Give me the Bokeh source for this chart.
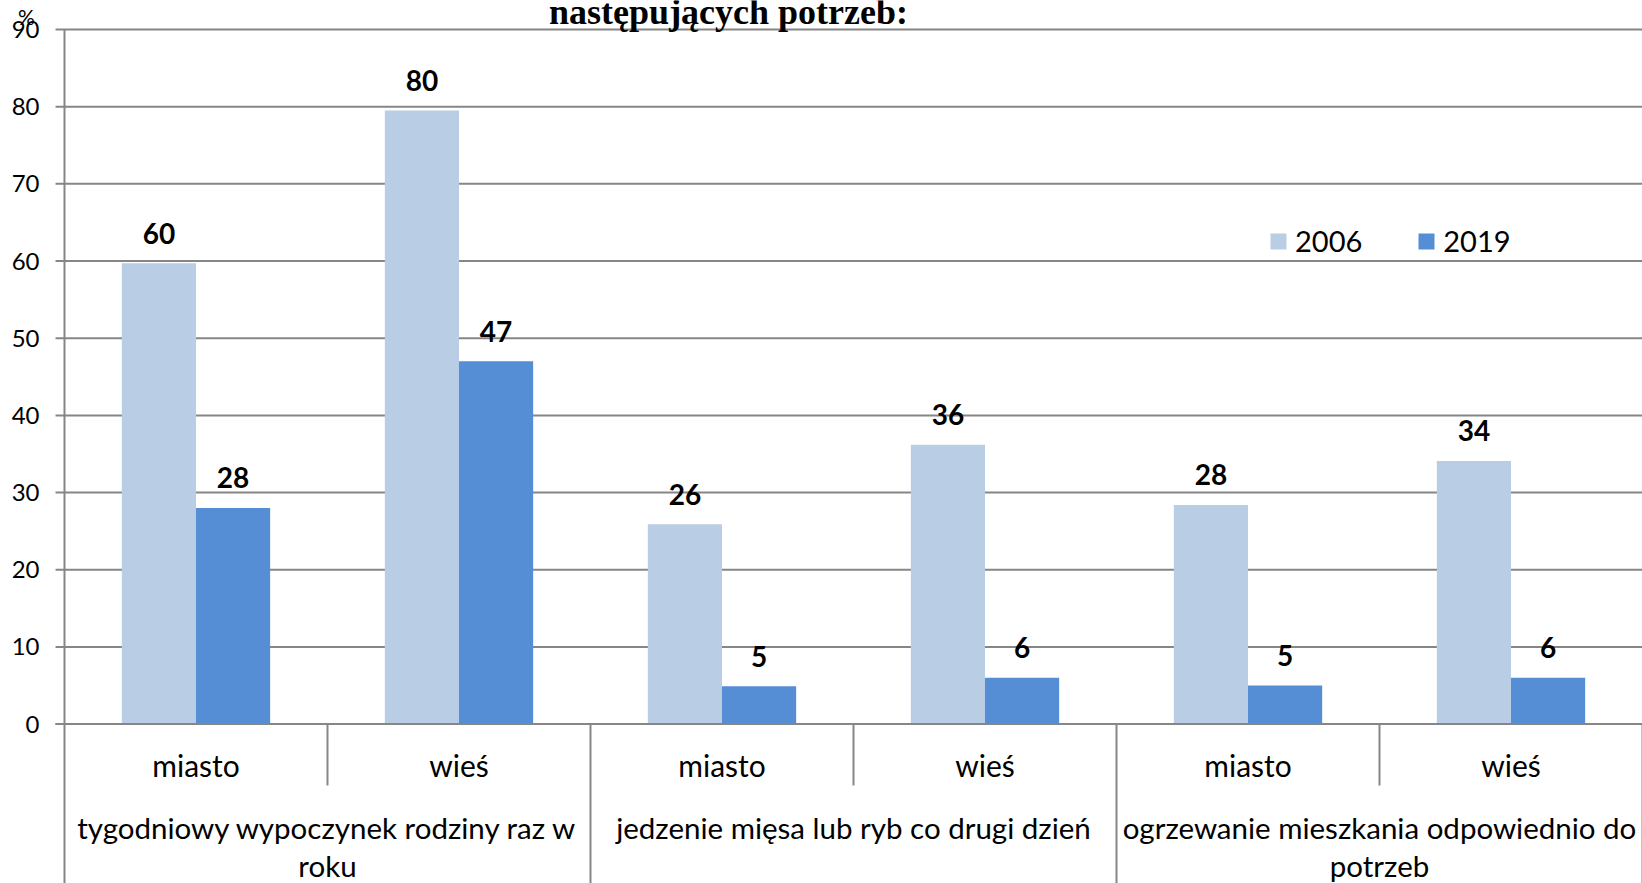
from bokeh.plotting import figure
from bokeh.models import Range1d, Legend, LegendItem, ColumnDataSource
from bokeh.core.properties import value
from bokeh.embed import file_html
from bokeh.resources import INLINE

# ---- data ----
sub_labels = ["miasto", "wieś", "miasto", "wieś", "miasto", "wieś"]
group_labels = ["tygodniowy wypoczynek rodziny raz w\nroku",
                "jedzenie mięsa lub ryb co drugi dzień",
                "ogrzewanie mieszkania odpowiednio do\npotrzeb"]
series_names = ["2006", "2019"]
values_2006 = [59.7, 79.5, 25.9, 36.2, 28.4, 34.1]
values_2019 = [28.0, 47.0, 4.9, 6.0, 5.0, 6.0]
labels_2006 = ["60", "80", "26", "36", "28", "34"]
labels_2019 = ["28", "47", "5", "6", "5", "6"]
y_ticks = [0, 10, 20, 30, 40, 50, 60, 70, 80, 90]
title_text = "następujących potrzeb:"
y_unit = "%"

# ---- style / layout ----
C2006 = "#B9CDE5"
C2019 = "#558ED5"
GRID = "#868686"
FONT = "Lato"
BAR_W = 0.282
X_MIN = -0.2433          # room on the left for the value axis
Y_MIN, Y_MAX = -20.66, 93.76
TICK_X0 = -0.034         # outside tick mark start
TICK_LABEL_X = -0.095
SHORT_Y = -7.96

n = len(sub_labels)
centers = [i + 0.5 for i in range(n)]
top_tick = max(y_ticks)

p = figure(width=1642, height=883, output_backend="svg", toolbar_location=None,
           x_range=Range1d(X_MIN, n), y_range=Range1d(Y_MIN, Y_MAX),
           min_border=0)
p.outline_line_color = None
p.xaxis.visible = False
p.yaxis.visible = False
p.grid.visible = False

# gridlines with outside tick marks
p.segment(x0=[TICK_X0] * len(y_ticks), y0=y_ticks, x1=[n] * len(y_ticks), y1=y_ticks,
          line_color=GRID, line_width=2)

src = ColumnDataSource(dict(
    x1=[c - BAR_W / 2 for c in centers], x2=[c + BAR_W / 2 for c in centers],
    v1=values_2006, v2=values_2019, l1=labels_2006, l2=labels_2019))

r1 = p.vbar(x="x1", top="v1", bottom=0, width=BAR_W, source=src, fill_color=C2006, line_color=None)
r2 = p.vbar(x="x2", top="v2", bottom=0, width=BAR_W, source=src, fill_color=C2019, line_color=None)

for xc, vc, lc in (("x1", "v1", "l1"), ("x2", "v2", "l2")):
    p.text(x=xc, y=vc, text=lc, source=src, text_align="center", text_baseline="middle",
           y_offset=-30, text_font=value(FONT), text_font_style="bold",
           text_font_size="28px", text_color="#000000")

# zero line over bars, value-axis line
p.segment(x0=[TICK_X0], y0=[0], x1=[n], y1=[0], line_color=GRID, line_width=2)
p.segment(x0=[0], y0=[top_tick], x1=[0], y1=[Y_MIN], line_color=GRID, line_width=2)

# tick labels
p.text(x=[TICK_LABEL_X] * len(y_ticks), y=y_ticks, text=[str(t) for t in y_ticks],
       text_align="right", text_baseline="middle", text_font=value(FONT),
       text_font_size="24px", text_color="#000000")

# category separators
p.segment(x0=[i for i in range(1, n, 2)], y0=0, x1=[i for i in range(1, n, 2)], y1=SHORT_Y,
          line_color=GRID, line_width=2)
p.segment(x0=[i for i in range(2, n + 1, 2)], y0=0, x1=[i for i in range(2, n + 1, 2)], y1=Y_MIN,
          line_color=GRID, line_width=2)

# sub-category labels
p.text(x=centers, y=[-5.24] * n, text=sub_labels, text_align="center", text_baseline="middle",
       text_font=value(FONT), text_font_size="30px", text_color="#000000")

# group labels (line by line)
gx, gy, gt = [], [], []
for gi, g in enumerate(group_labels):
    for li, line in enumerate(g.split("\n")):
        gx.append(2 * gi + 1)
        gy.append(-13.4 - li * 4.9)
        gt.append(line)
p.text(x=gx, y=gy, text=gt, text_align="center", text_baseline="middle",
       text_font=value(FONT), text_font_size="29.5px", text_color="#000000")

# title (only its last line is visible, cut by the top edge) and unit
p.text(x=[2.525], y=[92.3], text=[title_text], text_align="center", text_baseline="alphabetic",
       text_font=value("Liberation Serif"), text_font_style="bold", text_font_size="36px",
       text_color="#000000")
p.text(x=[-0.1445], y=[91.65], text=[y_unit], text_align="center", text_baseline="alphabetic",
       text_font=value(FONT), text_font_size="21px", text_color="#000000")

legend = Legend(items=[LegendItem(label=series_names[0], renderers=[r1]),
                       LegendItem(label=series_names[1], renderers=[r2])],
                orientation="horizontal", location=(1268, 625))
legend.border_line_color = None
legend.background_fill_alpha = 0
legend.padding = 0
legend.margin = 0
legend.spacing = 54
legend.glyph_width = 20
legend.glyph_height = 20
legend.label_standoff = 7
legend.label_text_font = FONT
legend.label_text_font_size = "29px"
legend.label_text_color = "#000000"
p.add_layout(legend)

open("out.html", "w").write(file_html(p, INLINE))
